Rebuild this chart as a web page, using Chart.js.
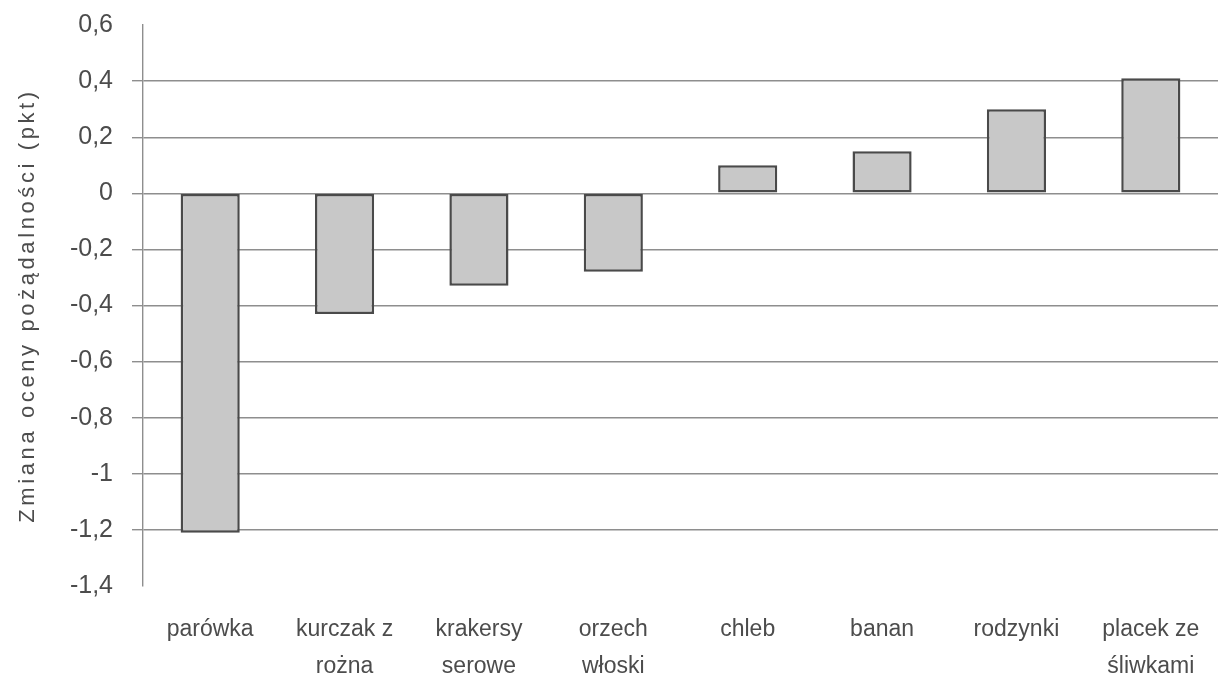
<!DOCTYPE html>
<html>
<head>
<meta charset="utf-8">
<script src="https://cdn.jsdelivr.net/npm/chart.js@4/dist/chart.umd.min.js"></script>
<style>
html,body{margin:0;padding:0;background:#fff;}
#wrap{width:1218px;height:676px;position:relative;}
</style>
</head>
<body>
<div id="wrap"><canvas id="c" width="1218" height="676"></canvas></div>
<script>
const categories = [
  'parówka',
  ['kurczak z', 'rożna'],
  ['krakersy', 'serowe'],
  ['orzech', 'włoski'],
  'chleb',
  'banan',
  'rodzynki',
  ['placek ze', 'śliwkami']
];
const values = [-1.21, -0.43, -0.33, -0.28, 0.10, 0.15, 0.30, 0.41];
const yMin = -1.4;
const yMax = 0.6;
const yStep = 0.2;
const yTitle = 'Zmiana oceny pożądalności (pkt)';

const FONT = "'Liberation Sans', Arial, sans-serif";
const TEXT = '#4c4c4c';
const GRID = '#8e8e8e';

function edgeTick(v) {
  return Math.abs(v - yMax) < 1e-6 || Math.abs(v - yMin) < 1e-6;
}

const letterSpacingPlugin = {
  id: 'spacedTitle',
  beforeDraw(chart) {
    const s = chart.scales.y;
    if (s && !s._patched) {
      const orig = Object.getPrototypeOf(s).drawTitle;
      s.drawTitle = function () {
        const ctx = this.ctx;
        ctx.save();
        try { ctx.letterSpacing = '3.6px'; } catch (e) {}
        orig.call(this);
        ctx.restore();
      };
      s._patched = true;
    }
  }
};

new Chart(document.getElementById('c'), {
  type: 'bar',
  data: {
    labels: categories,
    datasets: [{
      data: values,
      backgroundColor: '#c8c8c8',
      borderColor: '#4a4a4a',
      borderWidth: 2.5,
      borderSkipped: false,
      barPercentage: 0.44,
      categoryPercentage: 1
    }]
  },
  options: {
    responsive: false,
    animation: false,
    devicePixelRatio: 1,
    layout: { padding: { top: 25, right: -2, left: 0, bottom: 0 } },
    plugins: { legend: { display: false }, tooltip: { enabled: false } },
    scales: {
      x: {
        grid: { display: false, drawTicks: false },
        border: { display: false },
        ticks: {
          color: TEXT,
          font: { family: FONT, size: 23, lineHeight: 1.6 },
          padding: 25,
          maxRotation: 0,
          autoSkip: false
        },
        afterFit(scale) {
          scale.height = 90;
          scale.paddingLeft = 0;
          scale.paddingRight = -2;
        }
      },
      y: {
        min: yMin,
        max: yMax,
        grid: {
          color: (ctx) => (ctx.tick && edgeTick(ctx.tick.value)) ? 'rgba(0,0,0,0)' : GRID,
          tickColor: (ctx) => (ctx.tick && edgeTick(ctx.tick.value)) ? 'rgba(0,0,0,0)' : GRID,
          lineWidth: 1.4,
          tickLength: 11,
          drawTicks: true
        },
        border: { display: true, color: GRID, width: 1.4 },
        ticks: {
          stepSize: yStep,
          color: TEXT,
          padding: 19,
          font: { family: FONT, size: 25 },
          callback: (v) => {
            const r = Math.round(v * 10) / 10;
            return String(r).replace('.', ',');
          }
        },
        title: {
          display: true,
          text: yTitle,
          color: TEXT,
          font: { family: FONT, size: 22 },
          padding: { top: 15, bottom: 0 }
        },
        afterFit(scale) {
          scale.width = 143;
          scale.paddingTop = 0;
          scale.paddingBottom = 0;
        }
      }
    }
  },
  plugins: [letterSpacingPlugin]
});
</script>
</body>
</html>
